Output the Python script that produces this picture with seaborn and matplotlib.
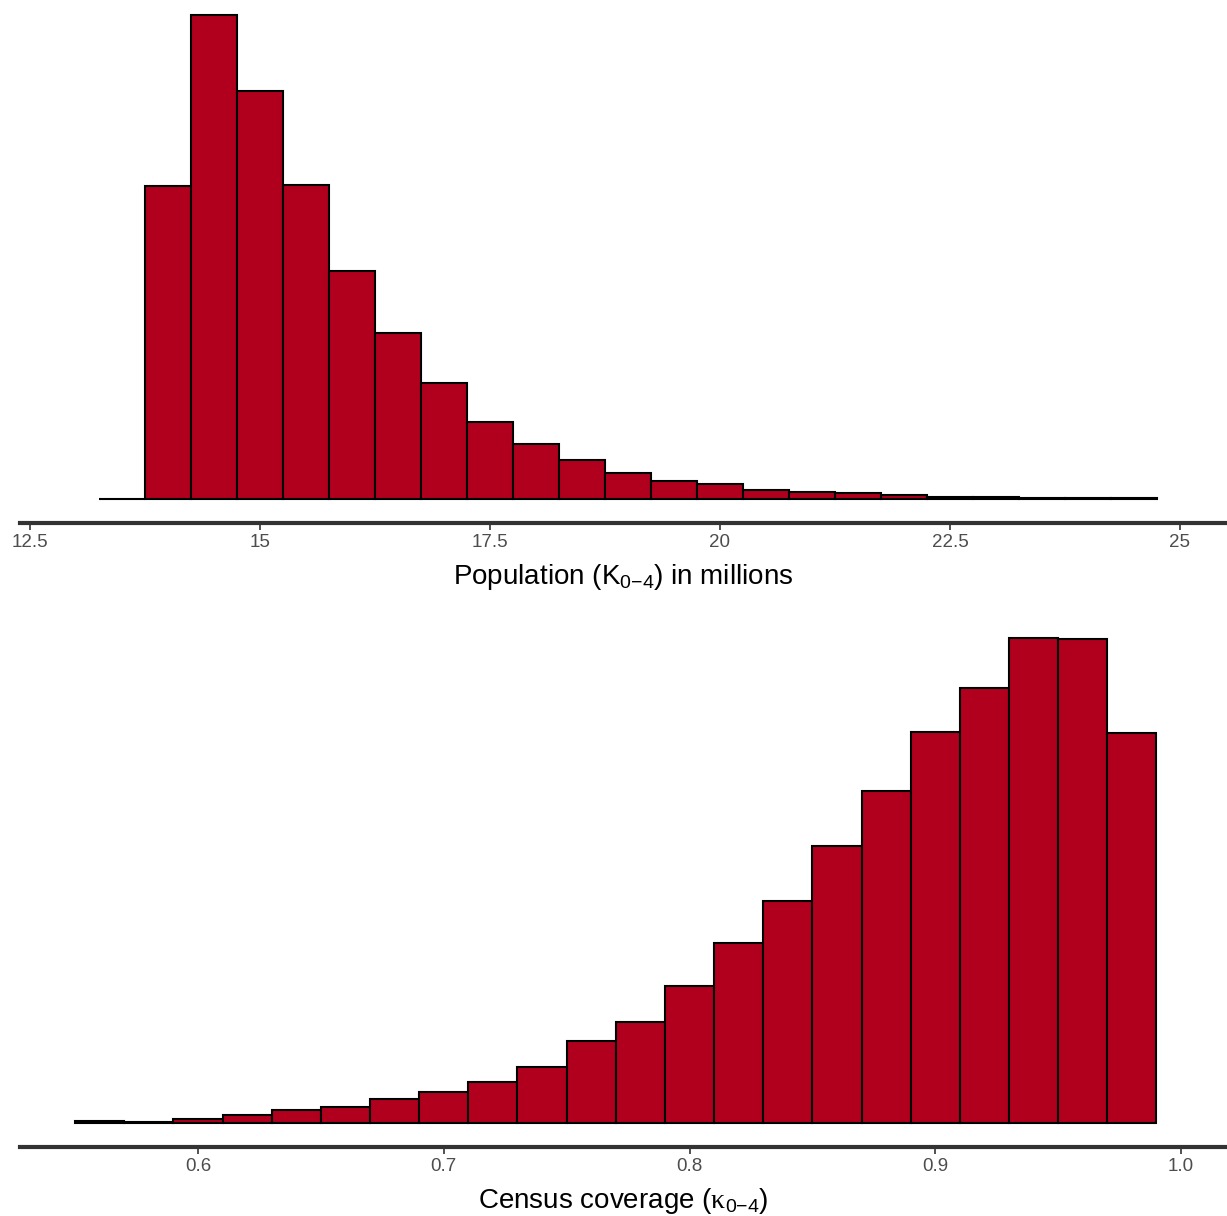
import numpy as np
import pandas as pd
import matplotlib
matplotlib.use("Agg")
import matplotlib.pyplot as plt
import seaborn as sns

# Population (K_0-4, millions): bin edges and counts per bin
pop_edges = [13.25, 13.75, 14.25, 14.75, 15.25, 15.75, 16.25, 16.75, 17.25,
             17.75, 18.25, 18.75, 19.25, 19.75, 20.25, 20.75, 21.25, 21.75,
             22.25, 22.75, 23.25, 23.75, 24.25, 24.75]
pop_counts = [0, 313, 484, 408, 314, 228, 166, 116, 77, 55, 39, 26, 18, 15,
              9, 7, 6, 4, 2.5, 2, 1.2, 1, 1]
pop_ticks = [12.5, 15, 17.5, 20, 22.5, 25]
pop_tick_labels = ["12.5", "15", "17.5", "20", "22.5", "25"]

# Census coverage (kappa_0-4): bin edges and counts per bin
cov_edges = [0.55, 0.57, 0.59, 0.61, 0.63, 0.65, 0.67, 0.69, 0.71, 0.73,
             0.75, 0.77, 0.79, 0.81, 0.83, 0.85, 0.87, 0.89, 0.91, 0.93,
             0.95, 0.97, 0.99]
cov_counts = [2, 1.5, 4, 8, 13, 16, 24, 31, 41, 56, 82, 101, 137, 180, 222,
              277, 332, 391, 435, 485, 484, 390]
cov_ticks = [0.6, 0.7, 0.8, 0.9, 1.0]
cov_tick_labels = ["0.6", "0.7", "0.8", "0.9", "1.0"]

FILL = "#B0001E"
W, H = 1227, 1216

sns.set_theme(style="white")
plt.rcParams["font.family"] = ["Liberation Sans", "DejaVu Sans"]
plt.rcParams["mathtext.fontset"] = "custom"
plt.rcParams["mathtext.rm"] = "Liberation Sans"
plt.rcParams["mathtext.sf"] = "Liberation Serif"  # upright serif for Greek symbols
plt.rcParams["mathtext.default"] = "regular"

fig = plt.figure(figsize=(W / 100, H / 100), dpi=100)


def px_axes(left, top, right, bottom):
    return fig.add_axes([left / W, 1 - bottom / H, (right - left) / W, (bottom - top) / H])


def draw_hist(ax, edges, counts, xlim, ylim, ticks, labels, xlabel):
    mids = [(a + b) / 2 for a, b in zip(edges[:-1], edges[1:])]
    df = pd.DataFrame({"x": mids, "n": counts})
    sns.histplot(data=df, x="x", weights="n", bins=list(edges), ax=ax,
                 color=FILL, edgecolor="black", linewidth=1.5, alpha=1)
    ax.set_xlim(*xlim)
    ax.set_ylim(*ylim)
    for s in ("left", "right", "top"):
        ax.spines[s].set_visible(False)
    ax.spines["bottom"].set_color("#333333")
    ax.spines["bottom"].set_linewidth(3)
    ax.set_yticks([])
    ax.set_ylabel("")
    ax.set_xticks(ticks)
    ax.set_xticklabels(labels)
    ax.tick_params(axis="x", bottom=True, direction="out", length=5, width=1.2,
                   color="#333333", labelsize=13.5, labelcolor="#4D4D4D", pad=3)
    ax.set_xlabel(xlabel, fontsize=20, color="black", labelpad=8)
    ax.patch.set_alpha(0)


# Top panel: population
ax1 = px_axes(20, 0, W, 523)
draw_hist(ax1, pop_edges, pop_counts,
          xlim=(12.5 - 10 / 92, 12.5 + 1197 / 92), ylim=(-24, 499),
          ticks=pop_ticks, labels=pop_tick_labels,
          xlabel=r"Population ($K_{0{-}4}$) in millions")

# Bottom panel: census coverage
ax2 = px_axes(20, 610, W, 1147)
draw_hist(ax2, cov_edges, cov_counts,
          xlim=(0.6 - 178 / 2457, 1.0 + 46 / 2457), ylim=(-24, 513),
          ticks=cov_ticks, labels=cov_tick_labels,
          xlabel=r"Census coverage ($\mathsf{\kappa}_{0{-}4}$)")

fig.savefig("out.png", dpi=100)
